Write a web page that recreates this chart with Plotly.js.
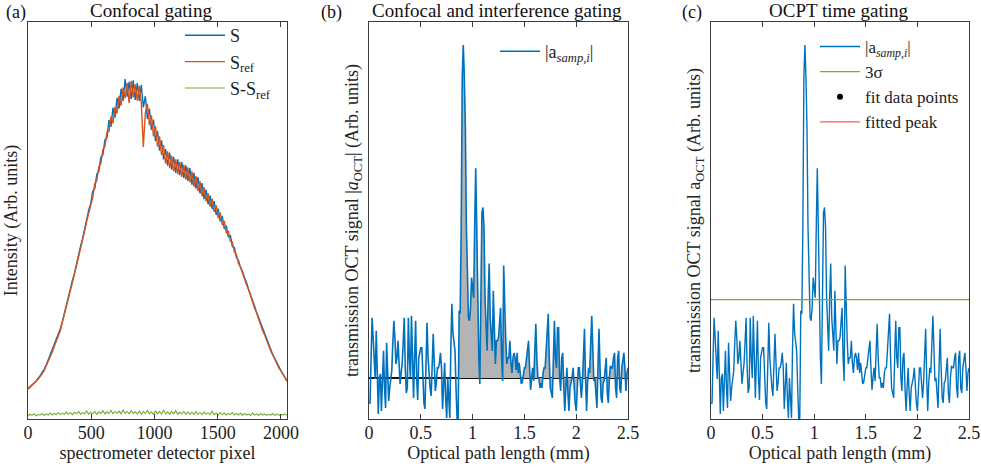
<!DOCTYPE html>
<html>
<head>
<meta charset="utf-8">
<script src="https://cdn.plot.ly/plotly-3.0.1.min.js"></script>
<style>
  html, body { margin: 0; padding: 0; background: #fff; }
  #chart { width: 981px; height: 470px; }
</style>
</head>
<body>
<div id="chart"></div>
<script>
// ---------- Panel (a): spectra, sampled every 16 detector pixels ----------
const pixelStep = 16;
const S = [
  7.7, 8.2, 8.6, 9.0, 9.5, 10.3, 10.9, 11.8, 12.5, 13.6, 14.9, 15.9, 17.2, 18.6, 19.9, 21.3,
  22.8, 24.6, 26.8, 28.6, 30.9, 32.7, 35.0, 36.8, 39.3, 41.0, 43.6, 45.5, 48.0, 49.6, 52.6, 54.3,
  57.4, 58.0, 61.7, 62.3, 66.0, 66.5, 70.3, 70.8, 75.3, 73.6, 78.4, 75.9, 80.9, 78.2, 83.2, 80.1,
  85.6, 81.2, 84.9, 80.6, 85.3, 80.4, 84.6, 80.1, 84.2, 78.5, 81.3, 75.6, 78.2, 72.8, 75.4, 70.0,
  72.6, 67.6, 70.2, 65.4, 68.0, 63.8, 67.1, 62.8, 66.0, 62.0, 65.4, 61.4, 64.7, 60.7, 63.9, 60.0,
  63.2, 59.0, 62.0, 58.0, 60.9, 56.8, 59.4, 55.4, 57.8, 54.1, 56.3, 52.9, 54.9, 51.4, 53.0, 49.8,
  51.1, 47.9, 48.7, 45.8, 46.3, 43.4, 43.2, 40.7, 40.0, 38.2, 37.2, 35.6, 34.4, 32.7, 31.4, 29.7,
  28.4, 26.8, 25.5, 23.9, 22.6, 21.2, 20.0, 18.7, 17.4, 16.2, 15.2, 14.1, 13.0, 12.2, 11.3, 10.5,
  9.7
];
const Sref = [
  7.5, 8.0, 8.4, 8.9, 9.3, 10.0, 10.7, 11.5, 12.2, 13.4, 14.5, 15.7, 16.8, 18.3, 19.6, 21.0,
  22.3, 24.4, 26.3, 28.4, 30.3, 32.5, 34.5, 36.6, 38.6, 40.9, 43.0, 45.2, 47.3, 49.8, 51.7, 54.3,
  55.8, 59.3, 60.0, 63.6, 64.3, 67.9, 68.6, 72.2, 72.4, 76.2, 74.5, 78.6, 77.0, 81.4, 78.9, 83.5,
  80.8, 84.6, 79.6, 85.2, 81.0, 84.3, 80.2, 83.9, 79.5, 68.5, 77.2, 79.4, 74.0, 76.5, 71.2, 73.8,
  68.6, 71.2, 66.5, 69.0, 64.3, 67.4, 63.2, 66.3, 62.4, 65.4, 61.7, 64.8, 61.0, 64.1, 60.3, 63.4,
  59.6, 62.4, 58.5, 61.2, 57.4, 59.9, 56.1, 58.4, 54.8, 56.9, 53.5, 55.5, 52.2, 53.8, 50.6, 52.0,
  48.9, 49.9, 46.8, 47.4, 44.8, 44.6, 42.0, 41.5, 39.2, 38.3, 36.7, 35.5, 33.8, 32.6, 30.9, 29.6,
  27.9, 26.7, 25.0, 23.8, 22.2, 21.1, 19.6, 18.6, 17.1, 16.1, 14.9, 14.0, 12.8, 12.1, 11.1, 10.4,
  9.5
];
const SminusSref = [
  0.8, 1.2, 0.9, 1.3, 0.8, 1.1, 1.0, 1.4, 0.9, 1.3, 1.0, 1.5, 1.0, 1.4, 1.1, 1.6,
  1.1, 1.5, 1.2, 1.8, 1.2, 1.6, 1.1, 1.7, 1.3, 1.9, 1.2, 1.6, 1.3, 2.0, 1.2, 1.7,
  1.3, 1.9, 1.2, 1.8, 1.4, 2.1, 1.3, 1.8, 1.4, 2.2, 1.3, 1.9, 1.4, 2.0, 1.3, 2.3,
  1.4, 1.9, 1.3, 2.1, 1.4, 1.8, 1.3, 2.0, 1.2, 1.9, 1.4, 2.2, 1.3, 1.8, 1.2, 2.0,
  1.3, 1.9, 1.2, 2.3, 1.3, 1.8, 1.2, 1.9, 1.3, 2.1, 1.2, 1.7, 1.3, 1.9, 1.2, 1.8,
  1.2, 1.7, 1.1, 1.9, 1.2, 1.6, 1.1, 1.8, 1.2, 1.6, 1.1, 2.0, 1.1, 1.5, 1.0, 1.6,
  1.1, 1.5, 1.0, 1.4, 1.1, 1.6, 1.0, 1.4, 1.0, 1.5, 0.9, 1.4, 1.0, 1.3, 0.9, 1.5,
  1.0, 1.3, 0.9, 1.4, 1.0, 1.3, 0.9, 1.2, 1.0, 1.4, 0.9, 1.3, 0.9, 1.2, 1.0, 1.3,
  0.9
];
const pixelTicks = [0, 500, 1000, 1500, 2000];

// ---------- Panels (b) and (c): OCT A-scan, sampled every 0.01 mm ----------
const pathStep = 0.01;
const aSamp = [
  -25, -25, 20, 60, 40, 10, -1, 47, 10, -36,
  0, 4, -33, -5, 27, -10, -30, 35, 5, -23,
  -10, 0, 7, 35, 57, 40, 14, 20, 37, 15,
  -6, 5, 14, 35, 60, 10, -15, -10, 60, 20,
  0, 62, 20, -20, 20, 57, 0, -22, 20, 25,
  30, 30, -5, -25, -31, 20, 55, 20, 0, -10,
  -18, 10, 44, 15, -13, -5, 10, 10, 15, 25,
  10, -31, 0, 15, -20, -40, 0, -20, -40, 30,
  74, 45, 35, 27, -10, -40, -45, 67, 64, 150,
  300, 332, 300, 250, 150, 87, 60, 57, 70, 100,
  90, 80, 150, 209, 150, 70, 20, -6, 60, 165,
  170, 150, 80, 50, 27, 80, 114, 60, 40, 27,
  87, 50, 14, 37, 37, 40, 60, 70, 20, -3,
  112, 60, 37, 14, 20, 20, 37, 15, 5, 20,
  25, 20, 8, 25, 5, 15, 0, -6, -4, 5,
  10, 10, 20, 30, 37, 10, -12, 0, 10, -3,
  20, 54, 20, 0, 0, -10, -5, -10, 5, 10,
  10, 30, 50, 64, 20, -10, -15, -20, 20, 57,
  20, 10, 50, 50, 0, -13, 20, 25, -10, -33,
  -10, 10, -15, -33, -10, -5, 0, 10, -10, -25,
  -33, 0, 10, 10, -10, -20, -5, 30, 49, 0,
  -33, -5, 10, 5, 30, 62, 30, -3, 0, -20,
  -30, 10, 49, 10, -20, -25, -5, -3, 15, 20,
  -15, -25, 0, 12, 10, 10, 20, 25, -10, -20,
  20, 27, -10, -15, 10, 20, 25, 10, -13, 5,
  10
];
const grayStartIndex = 86;      // interference-gated region shaded in (b)
const threeSigma = 78;          // 3σ threshold in (c)
const pathTicks = [0, 0.5, 1, 1.5, 2, 2.5];
const pathTickText = ['0', '0.5', '1', '1.5', '2', '2.5'];

// ---------- derived x arrays ----------
const px = S.map((_, i) => i * pixelStep);
const mm = aSamp.map((_, i) => +(i * pathStep).toFixed(2));

const BLUE = '#0072BD', ORANGE = '#D95319', GREEN = '#77AC30', RED = '#FF5555';
const FONT = 'Liberation Serif, Times New Roman, serif';

const traces = [
  // (a)
  {x: px, y: S, type: 'scatter', mode: 'lines', name: 'S', line: {color: BLUE, width: 1.4},
   xaxis: 'x', yaxis: 'y', legend: 'legend'},
  {x: px, y: Sref, type: 'scatter', mode: 'lines', name: 'S<sub>ref</sub>', line: {color: ORANGE, width: 1.4},
   xaxis: 'x', yaxis: 'y', legend: 'legend'},
  {x: px, y: SminusSref, type: 'scatter', mode: 'lines', name: 'S-S<sub>ref</sub>', line: {color: GREEN, width: 1.1},
   xaxis: 'x', yaxis: 'y', legend: 'legend'},
  // (b)
  {x: mm.slice(grayStartIndex), y: aSamp.slice(grayStartIndex), type: 'scatter', mode: 'none',
   fill: 'tozeroy', fillcolor: '#b4b4b4', showlegend: false, hoverinfo: 'skip',
   xaxis: 'x2', yaxis: 'y2'},
  {x: mm, y: aSamp, type: 'scatter', mode: 'lines', name: '|a<sub><i>samp,i</i></sub>|',
   line: {color: BLUE, width: 1.6}, xaxis: 'x2', yaxis: 'y2', legend: 'legend2'},
  // (c)
  {x: mm, y: aSamp, type: 'scatter', mode: 'lines', name: '|a<sub><i>samp,i</i></sub>|',
   line: {color: BLUE, width: 1.4}, xaxis: 'x3', yaxis: 'y3', legend: 'legend3'},
  {x: [mm[0], mm[mm.length - 1]], y: [threeSigma, threeSigma], type: 'scatter', mode: 'lines', name: '3σ',
   line: {color: GREEN, width: 1.3}, xaxis: 'x3', yaxis: 'y3', legend: 'legend3'},
  {x: [null], y: [null], type: 'scatter', mode: 'markers', name: 'fit data points',
   marker: {color: '#000', size: 6}, xaxis: 'x3', yaxis: 'y3', legend: 'legend3'},
  {x: [null], y: [null], type: 'scatter', mode: 'lines', name: 'fitted peak',
   line: {color: RED, width: 1.3}, xaxis: 'x3', yaxis: 'y3', legend: 'legend3'}
];

const yDom = [1 - 419 / 470, 1 - 22 / 470];
const axisCommon = {
  showgrid: false, zeroline: false, showline: true, mirror: 'ticks',
  linecolor: '#3a3a3a', linewidth: 1, ticks: 'inside', ticklen: 5, tickcolor: '#3a3a3a',
  tickfont: {family: FONT, size: 18, color: '#222'}, fixedrange: true
};
const xa = (dom, extra) => Object.assign({}, axisCommon, {domain: dom, ticklabelstandoff: -3}, extra);
const ya = (anchor, range, title, extra) => Object.assign({}, axisCommon, {
  domain: yDom, anchor: anchor, range: range, ticks: '', showticklabels: false,
  title: {text: title, font: {family: FONT, size: 18, color: '#222'}, standoff: 4}
}, extra || {});

const legendCommon = {
  bgcolor: 'rgba(0,0,0,0)', borderwidth: 0, xref: 'paper', yref: 'paper',
  xanchor: 'left', yanchor: 'top', font: {family: FONT, size: 18, color: '#222'},
  itemwidth: 40, tracegroupgap: 0
};
const xTitle = text => ({text: text, font: {family: FONT, size: 18, color: '#222'}, standoff: 2});

const layout = {
  width: 981, height: 470,
  margin: {l: 0, r: 0, t: 0, b: 0},
  paper_bgcolor: '#fff', plot_bgcolor: '#fff',
  showlegend: true,
  font: {family: FONT, size: 18, color: '#222'},
  xaxis: xa([28 / 981, 287 / 981], {anchor: 'y', range: [0, 2048], tickvals: pixelTicks,
    title: xTitle('spectrometer detector pixel')}),
  yaxis: ya('x', [0, 100], 'Intensity (Arb. units)'),
  xaxis2: xa([369 / 981, 628 / 981], {anchor: 'y2', range: [0, 2.5], tickvals: pathTicks, ticktext: pathTickText,
    title: xTitle('Optical path length (mm)')}),
  yaxis2: ya('x2', [-41, 355], 'transmission OCT signal |<i>a</i><sub>OCT</sub>| (Arb. units)',
    {zeroline: true, zerolinecolor: '#111', zerolinewidth: 1.5}),
  xaxis3: xa([711 / 981, 969 / 981], {anchor: 'y3', range: [0, 2.5], tickvals: pathTicks, ticktext: pathTickText,
    title: xTitle('Optical path length (mm)')}),
  yaxis3: ya('x3', [-41, 355], 'transmission OCT signal a<sub>OCT</sub> (Arb. units)'),
  legend: Object.assign({}, legendCommon, {x: 180 / 981, y: 1 - 17 / 470}),
  legend2: Object.assign({}, legendCommon, {x: 495 / 981, y: 1 - 33 / 470}),
  legend3: Object.assign({}, legendCommon, {x: 815 / 981, y: 1 - 29 / 470, font: {family: FONT, size: 17, color: '#222'}}),
  annotations: [
    {text: '(a)', x: 16 / 981, y: 1 - 12 / 470},
    {text: '(b)', x: 331 / 981, y: 1 - 12 / 470},
    {text: '(c)', x: 692 / 981, y: 1 - 12 / 470},
    {text: 'Confocal gating', x: 151 / 981, y: 1 - 11 / 470, size: 19},
    {text: 'Confocal and interference gating', x: 497 / 981, y: 1 - 11 / 470, size: 19},
    {text: 'OCPT time gating', x: 838 / 981, y: 1 - 11 / 470, size: 19}
  ].map(a => ({
    text: a.text, x: a.x, y: a.y, xref: 'paper', yref: 'paper', xanchor: 'center', yanchor: 'middle',
    showarrow: false, font: {family: FONT, size: a.size || 18, color: '#111'}
  }))
};

Plotly.newPlot('chart', traces, layout, {displayModeBar: false, staticPlot: true});
</script>
</body>
</html>
